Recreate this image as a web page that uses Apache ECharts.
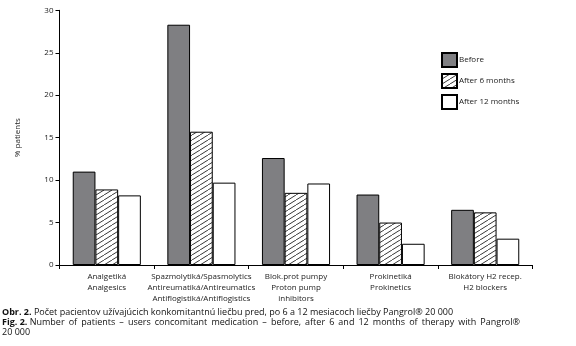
<!DOCTYPE html>
<html><head><meta charset="utf-8">
<script src="https://cdn.jsdelivr.net/npm/echarts@6/dist/echarts.min.js"></script>
<style>html,body{margin:0;padding:0;background:#fff}#c{width:576px;height:346px}</style>
</head><body><div id="c"></div>
<script>
const categories = [
  "Analgetiká\nAnalgesics",
  "Spazmolytiká/Spasmolytics\nAntireumatiká/Antireumatics\nAntiflogistiká/Antiflogistics",
  "Blok.prot pumpy\nProton pump\ninhibitors",
  "Prokinetiká\nProkinetics",
  "Blokátory H2 recep.\nH2 blockers"
];
const seriesNames = ["Before", "After 6 months", "After 12 months"];
const before = [11.0, 28.3, 12.6, 8.3, 6.5];
const after6 = [8.9, 15.7, 8.5, 5.0, 6.2];
const after12 = [8.2, 9.7, 9.6, 2.5, 3.1];
const yTicks = [0, 5, 10, 15, 20, 25, 30];
const captionSk = "Počet pacientov užívajúcich konkomitantnú liečbu pred, po 6 a 12 mesiacoch liečby Pangrol® 20 000";
const captionEn = "Number of patients – users concomitant medication – before, after 6 and 12 months of therapy with Pangrol®";
const captionEn2 = "20 000";

const FONT = '"Open Sans", "Noto Sans", sans-serif';
const CFS = 9;

// hatch pattern
const pc = document.createElement('canvas');
pc.width = 8; pc.height = 5;
const g = pc.getContext('2d');
g.fillStyle = '#fff'; g.fillRect(0,0,8,5);
g.strokeStyle = '#222'; g.lineWidth = 0.9;
g.beginPath();
g.moveTo(0,5); g.lineTo(8,0);
g.moveTo(-8,5); g.lineTo(0,0);
g.moveTo(8,5); g.lineTo(16,0);
g.stroke();
const hatch = {image: pc, repeat: 'repeat'};
const fills = ['#7f7f82', hatch, '#ffffff'];
const datas = [before, after6, after12];

// justified caption line 2 (text layout only)
const mc = document.createElement('canvas').getContext('2d');
const boldW = (function(){ mc.font = 'bold ' + CFS + 'px ' + FONT; return mc.measureText('Fig. 2.').width; })();
mc.font = CFS + 'px ' + FONT;
const words = captionEn.split(' ');
const startX = 2 + boldW + mc.measureText(' ').width;
const endX = 520;
const totalW = words.reduce((s, w) => s + mc.measureText(w).width, 0);
const gap = (endX - startX - totalW) / (words.length - 1);
const justified = [];
let cx = startX;
words.forEach(w => {
  justified.push({type: 'text', left: cx, top: 318, style: {text: w, font: CFS + 'px ' + FONT, fill: '#111'}});
  cx += mc.measureText(w).width + gap;
});

const chart = echarts.init(document.getElementById('c'), null, {renderer: 'canvas'});
chart.setOption({
  animation: false,
  textStyle: {fontFamily: FONT},
  grid: {left: 59.5, right: 43.5, top: 10.3, bottom: 81},
  legend: {
    orient: 'vertical', left: 441, top: 52, padding: 0, itemWidth: 15, itemHeight: 14, itemGap: 5,
    icon: 'rect',
    textStyle: {fontSize: 8, color: '#222', fontFamily: FONT, padding: [0,0,0,-3]},
    data: seriesNames
  },
  xAxis: {
    type: 'category', data: categories,
    axisLine: {lineStyle: {color: '#000', width: 1}},
    axisTick: {show: true, length: 4, lineStyle: {color: '#000'}},
    axisLabel: {fontSize: 8, color: '#222', lineHeight: 11, margin: 6, interval: 0, fontFamily: FONT}
  },
  yAxis: {
    type: 'value', min: 0, max: 30, interval: 5,
    name: '% patients', nameLocation: 'middle', nameGap: 38, nameRotate: 90,
    nameTextStyle: {fontSize: 8, color: '#222', fontFamily: FONT},
    splitLine: {show: false},
    axisLine: {show: true, lineStyle: {color: '#000', width: 1}},
    axisTick: {show: true, length: 4, lineStyle: {color: '#000'}},
    axisLabel: {fontSize: 8, color: '#222', margin: 6, fontFamily: FONT,
      formatter: v => yTicks.includes(v) ? String(v) : ''}
  },
  series: seriesNames.map((n, i) => ({
    name: n, type: 'bar', data: datas[i],
    barGap: '0%', barCategoryGap: '28%',
    itemStyle: {color: fills[i], borderColor: '#000', borderWidth: 1}
  })),
  graphic: [
    {type: 'text', left: 2, top: 308, style: {
      text: '{b|Obr. 2.} ' + captionSk,
      font: CFS + 'px ' + FONT, fill: '#111',
      rich: {b: {fontWeight: 'bold', fontSize: CFS, fontFamily: FONT, fill: '#111'}}
    }},
    {type: 'text', left: 2, top: 318, style: {
      text: 'Fig. 2.', font: 'bold ' + CFS + 'px ' + FONT, fill: '#111'
    }},
    ...justified,
    {type: 'text', left: 2, top: 328, style: {
      text: captionEn2, font: CFS + 'px ' + FONT, fill: '#111'
    }}
  ]
});
</script></body></html>
